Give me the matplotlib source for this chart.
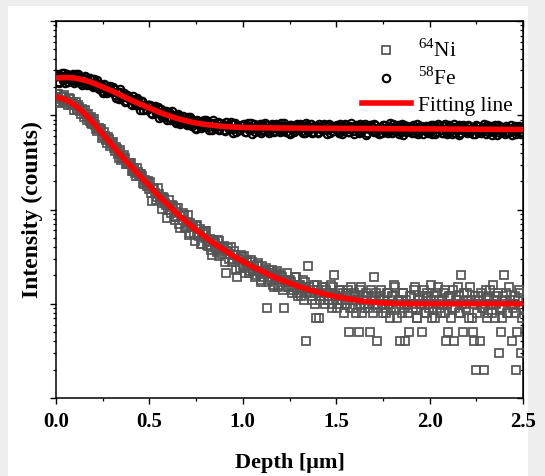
import matplotlib
matplotlib.use("Agg")
import matplotlib.pyplot as plt
from matplotlib.ticker import MultipleLocator, NullFormatter, LogLocator
from matplotlib.patches import Rectangle

plt.rcParams['font.family'] = ['Liberation Serif', 'DejaVu Serif']
plt.rcParams['mathtext.fontset'] = 'custom'
plt.rcParams['mathtext.rm'] = 'Liberation Serif'

# depth grid of the profile (um), on-step points
depth = [
    0.00, 0.01, 0.02, 0.03, 0.04, 0.05, 0.06, 0.07, 0.08, 0.09,
    0.10, 0.11, 0.12, 0.13, 0.14, 0.15, 0.16, 0.17, 0.18, 0.19,
    0.20, 0.21, 0.22, 0.23, 0.24, 0.25, 0.26, 0.27, 0.28, 0.29,
    0.30, 0.31, 0.32, 0.33, 0.34, 0.35, 0.36, 0.37, 0.38, 0.39,
    0.40, 0.41, 0.42, 0.43, 0.44, 0.45, 0.46, 0.47, 0.48, 0.49,
    0.50, 0.51, 0.52, 0.53, 0.54, 0.55, 0.56, 0.57, 0.58, 0.59,
    0.60, 0.61, 0.62, 0.63, 0.64, 0.65, 0.66, 0.67, 0.68, 0.69,
    0.70, 0.71, 0.72, 0.73, 0.74, 0.75, 0.76, 0.77, 0.78, 0.79,
    0.80, 0.81, 0.82, 0.83, 0.84, 0.85, 0.86, 0.87, 0.88, 0.89,
    0.90, 0.91, 0.92, 0.93, 0.94, 0.95, 0.96, 0.97, 0.98, 0.99,
    1.00, 1.01, 1.02, 1.03, 1.04, 1.05, 1.06, 1.07, 1.08, 1.09,
    1.10, 1.11, 1.12, 1.13, 1.14, 1.15, 1.16, 1.17, 1.18, 1.19,
    1.20, 1.21, 1.22, 1.23, 1.24, 1.25, 1.26, 1.27, 1.28, 1.29,
    1.30, 1.31, 1.32, 1.33, 1.34, 1.35, 1.36, 1.37, 1.38, 1.39,
    1.40, 1.41, 1.42, 1.43, 1.44, 1.45, 1.46, 1.47, 1.48, 1.49,
    1.50, 1.51, 1.52, 1.53, 1.54, 1.55, 1.56, 1.57, 1.58, 1.59,
    1.60, 1.61, 1.62, 1.63, 1.64, 1.65, 1.66, 1.67, 1.68, 1.69,
    1.70, 1.71, 1.72, 1.73, 1.74, 1.75, 1.76, 1.77, 1.78, 1.79,
    1.80, 1.81, 1.82, 1.83, 1.84, 1.85, 1.86, 1.87, 1.88, 1.89,
    1.90, 1.91, 1.92, 1.93, 1.94, 1.95, 1.96, 1.97, 1.98, 1.99,
    2.00, 2.01, 2.02, 2.03, 2.04, 2.05, 2.06, 2.07, 2.08, 2.09,
    2.10, 2.11, 2.12, 2.13, 2.14, 2.15, 2.16, 2.17, 2.18, 2.19,
    2.20, 2.21, 2.22, 2.23, 2.24, 2.25, 2.26, 2.27, 2.28, 2.29,
    2.30, 2.31, 2.32, 2.33, 2.34, 2.35, 2.36, 2.37, 2.38, 2.39,
    2.40, 2.41, 2.42, 2.43, 2.44, 2.45, 2.46, 2.47, 2.48, 2.49,
    2.50,
]
# half-step points
depth_b = [
    0.005, 0.015, 0.025, 0.035, 0.045, 0.055, 0.065, 0.075, 0.085, 0.095,
    0.105, 0.115, 0.125, 0.135, 0.145, 0.155, 0.165, 0.175, 0.185, 0.195,
    0.205, 0.215, 0.225, 0.235, 0.245, 0.255, 0.265, 0.275, 0.285, 0.295,
    0.305, 0.315, 0.325, 0.335, 0.345, 0.355, 0.365, 0.375, 0.385, 0.395,
    0.405, 0.415, 0.425, 0.435, 0.445, 0.455, 0.465, 0.475, 0.485, 0.495,
    0.505, 0.515, 0.525, 0.535, 0.545, 0.555, 0.565, 0.575, 0.585, 0.595,
    0.605, 0.615, 0.625, 0.635, 0.645, 0.655, 0.665, 0.675, 0.685, 0.695,
    0.705, 0.715, 0.725, 0.735, 0.745, 0.755, 0.765, 0.775, 0.785, 0.795,
    0.805, 0.815, 0.825, 0.835, 0.845, 0.855, 0.865, 0.875, 0.885, 0.895,
    0.905, 0.915, 0.925, 0.935, 0.945, 0.955, 0.965, 0.975, 0.985, 0.995,
    1.005, 1.015, 1.025, 1.035, 1.045, 1.055, 1.065, 1.075, 1.085, 1.095,
    1.105, 1.115, 1.125, 1.135, 1.145, 1.155, 1.165, 1.175, 1.185, 1.195,
    1.205, 1.215, 1.225, 1.235, 1.245, 1.255, 1.265, 1.275, 1.285, 1.295,
    1.305, 1.315, 1.325, 1.335, 1.345, 1.355, 1.365, 1.375, 1.385, 1.395,
    1.405, 1.415, 1.425, 1.435, 1.445, 1.455, 1.465, 1.475, 1.485, 1.495,
    1.505, 1.515, 1.525, 1.535, 1.545, 1.555, 1.565, 1.575, 1.585, 1.595,
    1.605, 1.615, 1.625, 1.635, 1.645, 1.655, 1.665, 1.675, 1.685, 1.695,
    1.705, 1.715, 1.725, 1.735, 1.745, 1.755, 1.765, 1.775, 1.785, 1.795,
    1.805, 1.815, 1.825, 1.835, 1.845, 1.855, 1.865, 1.875, 1.885, 1.895,
    1.905, 1.915, 1.925, 1.935, 1.945, 1.955, 1.965, 1.975, 1.985, 1.995,
    2.005, 2.015, 2.025, 2.035, 2.045, 2.055, 2.065, 2.075, 2.085, 2.095,
    2.105, 2.115, 2.125, 2.135, 2.145, 2.155, 2.165, 2.175, 2.185, 2.195,
    2.205, 2.215, 2.225, 2.235, 2.245, 2.255, 2.265, 2.275, 2.285, 2.295,
    2.305, 2.315, 2.325, 2.335, 2.345, 2.355, 2.365, 2.375, 2.385, 2.395,
    2.405, 2.415, 2.425, 2.435, 2.445, 2.455, 2.465, 2.475, 2.485, 2.495,
]

fe58 = [
    2653, 2238, 2582, 2800, 2382, 2173, 2722, 2503, 2327, 2744,
    2612, 2252, 2769, 2331, 2106, 2407, 2532, 2143, 2497, 2195,
    1975, 2269, 2369, 1899, 2105, 1722, 2090, 1952, 1787, 2034,
    1747, 1921, 1527, 1782, 1884, 1509, 1586, 1394, 1623, 1536,
    1327, 1594, 1373, 1300, 1457, 1137, 1425, 1289, 1158, 1281,
    1276, 1053, 1189, 1261, 1049, 935, 1155, 1047, 960, 1116,
    1045, 897, 1097, 920, 826, 939, 991, 841, 981, 865,
    781, 905, 955, 773, 865, 716, 878, 830, 769, 886,
    771, 862, 696, 827, 889, 725, 774, 693, 820, 790,
    695, 848, 742, 715, 817, 648, 825, 758, 694, 780,
    792, 665, 766, 827, 702, 638, 801, 737, 688, 811,
    773, 673, 835, 709, 647, 746, 796, 684, 808, 720,
    657, 769, 819, 668, 757, 632, 780, 743, 693, 805,
    704, 793, 642, 766, 828, 680, 729, 653, 777, 754,
    667, 815, 715, 690, 788, 628, 801, 738, 677, 763,
    775, 688, 800, 638, 748, 785, 712, 663, 823, 675,
    761, 736, 650, 810, 699, 772, 623, 746, 795, 685,
    661, 782, 721, 636, 758, 793, 671, 732, 696, 818,
    646, 756, 707, 779, 669, 803, 621, 741, 766, 680,
    717, 790, 655, 728, 631, 765, 752, 692, 777, 643,
    740, 679, 788, 630, 739, 776, 702, 653, 811, 665,
    750, 725, 640, 798, 689, 762, 615, 736, 785, 676,
    651, 772, 711, 626, 747, 784, 662, 722, 686, 807,
    637, 745, 697, 769, 661, 794, 611, 732, 756, 672,
    708, 778, 647, 719, 624, 755, 742, 682, 766, 635,
    730,
]
fe58_b = [
    2712, 2220, 2600, 2356, 2813, 2462, 2280, 2675, 2519, 2189,
    2720, 2351, 2571, 2209, 2449, 2609, 2084, 2260, 2429, 2105,
    2439, 1987, 2138, 2158, 1792, 2153, 1880, 1730, 1975, 1826,
    1986, 1646, 1783, 1475, 1754, 1571, 1726, 1412, 1517, 1541,
    1293, 1452, 1314, 1519, 1276, 1408, 1138, 1280, 1144, 1278,
    1289, 1033, 1184, 1049, 1225, 1053, 961, 1111, 1031, 883,
    1086, 934, 1017, 869, 959, 1019, 816, 887, 956, 830,
    969, 797, 865, 882, 740, 899, 794, 740, 855, 801,
    884, 744, 820, 690, 835, 760, 849, 707, 773, 800,
    683, 780, 717, 843, 721, 809, 665, 760, 692, 787,
    806, 658, 769, 695, 828, 724, 672, 791, 746, 650,
    809, 706, 779, 676, 757, 816, 662, 728, 794, 698,
    819, 680, 746, 768, 651, 797, 709, 665, 775, 731,
    809, 685, 758, 642, 780, 714, 802, 671, 736, 765,
    654, 749, 691, 814, 698, 785, 647, 742, 676, 771,
    790, 645, 754, 682, 812, 711, 660, 776, 732, 638,
    795, 694, 766, 665, 745, 803, 651, 716, 781, 687,
    808, 671, 735, 757, 642, 786, 699, 656, 764, 721,
    798, 676, 748, 633, 769, 705, 791, 661, 726, 755,
    645, 739, 681, 803, 688, 774, 638, 731, 667, 760,
    779, 636, 744, 672, 801, 701, 651, 765, 722, 629,
    784, 684, 756, 656, 734, 791, 642, 706, 770, 677,
    796, 661, 725, 747, 633, 775, 690, 647, 754, 711,
    787, 666, 737, 624, 759, 695, 780, 652, 716, 744,
    636, 728, 672, 792, 679, 764, 629, 721, 658, 749,
]

ni64 = [
    1500, 1666, 1388, 1551, 1577, 1454, 1344, 1532, 1288, 1373,
    1298, 1138, 1298, 1112, 1156, 951, 1035, 1031, 876, 818,
    878, 786, 679, 735, 723, 601, 606, 552, 592, 469,
    502, 454, 462, 392, 426, 333, 364, 353, 307, 304,
    312, 259, 266, 228, 251, 236, 224, 186, 199, 200,
    167, 150, 170, 151, 136, 147, 136, 116, 132, 111,
    100, 106, 111, 84, 104, 83, 70, 86, 91, 64,
    74, 54, 72, 65, 55, 67, 53, 62, 43, 55,
    59, 42, 46, 37, 47, 44, 35, 46, 37, 34,
    41, 21, 39, 34, 28, 33, 33, 19, 30, 33,
    25, 21, 29, 25, 22, 28, 25, 20, 27, 21,
    17, 22, 23, 9, 23, 18, 16, 20, 21, 15,
    18, 19, 9, 17, 15, 18, 17, 14, 19, 13,
    16, 12, 18, 15, 4, 25, 13, 11, 16, 7,
    14, 7, 12, 15, 10, 13, 11, 16, 9, 20,
    12, 10, 14, 11, 8, 13, 10, 5, 15, 9,
    12, 11, 5, 14, 8, 10, 13, 9, 5, 12,
    19, 10, 4, 11, 14, 8, 9, 13, 10, 7,
    12, 16, 9, 11, 4, 8, 13, 4, 10, 5,
    12, 9, 15, 7, 11, 10, 5, 14, 8, 12,
    10, 16, 9, 7, 13, 11, 8, 10, 14, 4,
    5, 12, 9, 4, 11, 15, 8, 20, 5, 10,
    13, 7, 11, 5, 4, 2, 12, 4, 9, 2,
    14, 8, 11, 10, 16, 7, 12, 3, 5, 9,
    20, 13, 8, 11, 4, 10, 2, 5, 14, 3,
    9,
]
ni64_b = [
    1692, 1365, 1576, 1407, 1655, 1420, 1284, 1470, 1351, 1146,
    1387, 1165, 1238, 1033, 1111, 1144, 882, 925, 962, 807,
    904, 712, 741, 722, 579, 671, 566, 503, 555, 496,
    523, 420, 441, 354, 407, 354, 378, 302, 315, 311,
    254, 277, 244, 274, 224, 240, 189, 206, 179, 193,
    198, 123, 164, 126, 170, 125, 101, 137, 117, 82,
    127, 92, 108, 77, 94, 104, 64, 77, 88, 65,
    87, 57, 67, 68, 46, 68, 52, 43, 58, 50,
    59, 41, 49, 33, 48, 39, 48, 32, 38, 40,
    28, 36, 30, 40, 29, 36, 23, 30, 24, 31,
    32, 24, 28, 21, 29, 23, 19, 26, 22, 18,
    25, 19, 24, 17, 21, 23, 15, 19, 22, 16,
    20, 14, 18, 21, 15, 17, 13, 15, 19, 12,
    16, 14, 11, 17, 13, 15, 12, 14, 10, 16,
    13, 11, 15, 12, 14, 11, 13, 10, 15, 12,
    9, 14, 11, 13, 10, 12, 14, 9, 11, 13,
    8, 12, 10, 15, 11, 9, 12, 10, 14, 8,
    11, 13, 9, 12, 10, 11, 8, 13, 10, 9,
    12, 15, 7, 11, 10, 13, 9, 11, 8, 12,
    10, 14, 9, 7, 11, 10, 12, 8, 13, 9,
    11, 7, 12, 10, 15, 9, 11, 13, 8, 10,
    12, 7, 14, 9, 11, 12, 8, 10, 13, 9,
    11, 15, 7, 10, 12, 8, 11, 13, 9, 10,
    7, 12, 14, 8, 11, 10, 13, 9, 7, 12,
    11, 8, 15, 10, 9, 12, 8, 11, 13, 7,
]

# fitted curves, sampled every 0.05 um
fit_depth = [
    0.00, 0.05, 0.10, 0.15, 0.20, 0.25, 0.30, 0.35, 0.40, 0.45,
    0.50, 0.55, 0.60, 0.65, 0.70, 0.75, 0.80, 0.85, 0.90, 0.95,
    1.00, 1.05, 1.10, 1.15, 1.20, 1.25, 1.30, 1.35, 1.40, 1.45,
    1.50, 1.55, 1.60, 1.65, 1.70, 1.75, 1.80, 1.85, 1.90, 1.95,
    2.00, 2.05, 2.10, 2.15, 2.20, 2.25, 2.30, 2.35, 2.40, 2.45,
    2.50,
]
fe_fit = [
    2485, 2515, 2485, 2366, 2199, 1994, 1808, 1620, 1451, 1316,
    1194, 1083, 994, 924, 869, 828, 798, 778, 760, 750,
    741, 738, 736, 734, 732, 731, 730, 729, 728, 727,
    726, 724, 724, 723, 722, 720, 719, 718, 717, 716,
    716, 715, 714, 713, 712, 711, 710, 709, 708, 707,
    706,
]
ni_fit = [
    1562, 1469, 1285, 1057, 828, 633, 483, 370, 289, 227,
    178, 139, 112, 89.6, 73.7, 60.6, 51.1, 43.1, 37.2, 32.1,
    28.1, 24.8, 22.3, 19.9, 18.1, 16.6, 15.2, 14.2, 13.3, 12.5,
    11.9, 11.4, 11.0, 10.6, 10.4, 10.2, 10.1, 10.05, 10.0, 10.0,
    10.0, 10.0, 10.0, 10.0, 10.0, 10.0, 10.0, 10.0, 10.0, 10.0,
    10.0,
]

W, H = 545, 476
fig = plt.figure(figsize=(W / 100, H / 100), dpi=100, facecolor='#eeeeee')
fig.patches.append(Rectangle((8 / W, 0), 520 / W, (H - 6) / H, transform=fig.transFigure,
                             facecolor='white', edgecolor='none', zorder=-10))
ax = fig.add_axes([56 / W, (H - 398) / H, 467 / W, 377 / H])

ax.plot(depth + depth_b, fe58 + fe58_b, 'o', ms=5.4, mfc='none', mec='black', mew=1.5,
        label='$^{58}$Fe', zorder=2)
ax.plot(depth + depth_b, ni64 + ni64_b, 's', ms=6.2, mfc='none', mec='#555555', mew=1.25,
        label='$^{64}$Ni', zorder=3)
ax.plot(fit_depth, fe_fit, '-', color='red', lw=4, zorder=4)
ax.plot(fit_depth, ni_fit, '-', color='red', lw=4, label='Fitting line', zorder=4)

ax.set_yscale('log')
ax.set_ylim(1, 1e4)
ax.set_xlim(0, 2.5)
ax.yaxis.set_major_formatter(NullFormatter())
ax.yaxis.set_minor_formatter(NullFormatter())
ax.yaxis.set_minor_locator(LogLocator(base=10, subs=range(2, 10)))
ax.xaxis.set_major_locator(MultipleLocator(0.5))
ax.xaxis.set_minor_locator(MultipleLocator(0.25))
ax.xaxis.set_major_formatter(plt.FuncFormatter(lambda v, p: f'{v:.1f}'))

for s in ax.spines.values():
    s.set_linewidth(1.1)
ax.tick_params(which='major', direction='out', length=4, width=1.0, labelsize=15, pad=6)
ax.tick_params(which='minor', direction='out', length=2.5, width=0.9)
for lab in ax.get_xticklabels():
    lab.set_fontweight('bold')

# mirrored ticks on top and right, pointing inwards
top = ax.secondary_xaxis('top')
top.xaxis.set_major_locator(MultipleLocator(0.5))
top.xaxis.set_minor_locator(MultipleLocator(0.25))
top.tick_params(which='major', direction='in', length=4, width=1.0, labeltop=False)
top.tick_params(which='minor', direction='in', length=2.5, width=0.9)
right = ax.secondary_yaxis('right')
right.yaxis.set_major_locator(LogLocator(base=10))
right.yaxis.set_minor_locator(LogLocator(base=10, subs=range(2, 10)))
right.yaxis.set_major_formatter(NullFormatter())
right.yaxis.set_minor_formatter(NullFormatter())
right.tick_params(which='major', direction='in', length=4, width=1.0)
right.tick_params(which='minor', direction='in', length=2.5, width=0.9)

ax.set_xlabel('Depth [μm]', fontsize=16, fontweight='bold', labelpad=15)
ax.set_ylabel('Intensity (counts)', fontsize=17, fontweight='bold', labelpad=-0.5)

h, l = ax.get_legend_handles_labels()
order = [1, 0, 2]
ax.legend([h[i] for i in order], [l[i] for i in order], loc='upper right',
          bbox_to_anchor=(1.005, 0.985), frameon=False, fontsize=15.5,
          handlelength=2.3, handletextpad=0.3, labelspacing=0.25, borderaxespad=0.2)

fig.savefig('out.png', dpi=100, facecolor=fig.get_facecolor())
